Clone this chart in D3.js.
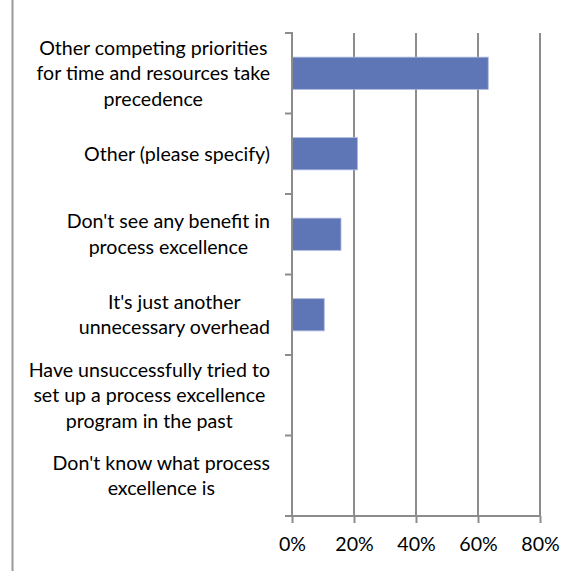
<!DOCTYPE html>
<html>
<head>
<meta charset="utf-8">
<script src="https://cdn.jsdelivr.net/npm/d3@7"></script>
<style>
  html, body { margin: 0; padding: 0; background: #fff; }
  svg { display: block; }
  text { font-family: Lato, "Open Sans", sans-serif; fill: #000; }
</style>
</head>
<body>
<svg id="chart" width="585" height="571"></svg>
<script>
// Survey: reasons for not having a process excellence program
const categories = [
  ["Other competing priorities", "for time and resources take", "precedence"],
  ["Other (please specify)"],
  ["Don't see any benefit in", "process excellence"],
  ["It's just another", "unnecessary overhead"],
  ["Have unsuccessfully tried to", "set up a process excellence", "program in the past"],
  ["Don't know what process", "excellence is"]
];
const values = [0.633, 0.211, 0.158, 0.104, 0, 0];
const tickValues = [0, 0.2, 0.4, 0.6, 0.8];

const svg = d3.select("#chart");
const fontSize = 19.6;
const lineHeight = 25.5;
const gridColor = "#8c8c8c";

const plotLeft = 292, plotRight = 540, plotTop = 33, plotBottom = 516;

const keys = categories.map((c, i) => i);
const x = d3.scaleLinear().domain([0, 0.8]).range([plotLeft, plotRight]);
const y = d3.scaleBand().domain(keys).range([plotTop, plotBottom]).paddingInner(0.6).paddingOuter(0.3);

// outer frame line on the left
svg.append("line")
  .attr("x1", 12.5).attr("x2", 12.5).attr("y1", 0).attr("y2", 571)
  .attr("stroke", "#999").attr("stroke-width", 2);

// vertical gridlines
svg.append("g").selectAll("line")
  .data(tickValues.slice(1))
  .join("line")
  .attr("x1", d => x(d)).attr("x2", d => x(d))
  .attr("y1", plotTop).attr("y2", plotBottom)
  .attr("stroke", gridColor).attr("stroke-width", 2);

// bars
svg.append("g").selectAll("rect")
  .data(values)
  .join("rect")
  .attr("x", x(0))
  .attr("y", (d, i) => y(i))
  .attr("width", d => x(d) - x(0))
  .attr("height", y.bandwidth())
  .attr("fill", "#5e76b5")
  .attr("stroke", "#a9b8e0")
  .attr("stroke-width", d => d > 0 ? 0.8 : 0);

// bottom axis
const xAxis = d3.axisBottom(x)
  .tickValues(tickValues)
  .tickFormat(d3.format(".0%"))
  .tickSize(7)
  .tickSizeOuter(0)
  .tickPadding(14);
const gx = svg.append("g").attr("transform", `translate(0,${plotBottom})`).call(xAxis);
gx.select(".domain").remove();
gx.selectAll(".tick line").attr("stroke", gridColor).attr("stroke-width", 2);
gx.selectAll(".tick text").style("font-size", fontSize + "px").style("font-family", "Lato").attr("fill", "#000");
gx.append("line")
  .attr("x1", plotLeft - 7).attr("x2", plotRight + 1).attr("y1", 0).attr("y2", 0)
  .attr("stroke", gridColor).attr("stroke-width", 2);

// left axis with ticks at category boundaries
const boundaries = keys.map(k => y(k) - y.step() * y.paddingInner() / 2).concat([plotBottom]);
svg.append("line")
  .attr("x1", plotLeft).attr("x2", plotLeft).attr("y1", plotTop - 1).attr("y2", plotBottom)
  .attr("stroke", gridColor).attr("stroke-width", 2);
svg.append("g").selectAll("line")
  .data(boundaries)
  .join("line")
  .attr("x1", plotLeft - 7).attr("x2", plotLeft)
  .attr("y1", d => d).attr("y2", d => d)
  .attr("stroke", gridColor).attr("stroke-width", 2);

// category labels: block right-aligned, lines centred within the block
const labelRight = 270;
const labels = svg.append("g");
categories.forEach((lines, i) => {
  const cy = y(i) + y.bandwidth() / 2;
  const g = labels.append("g");
  const texts = g.selectAll("text")
    .data(lines)
    .join("text")
    .attr("text-anchor", "middle")
    .style("font-size", fontSize + "px")
    .attr("y", (d, j) => cy + (j - (lines.length - 1) / 2) * lineHeight)
    .attr("dy", "0.35em")
    .text(d => d);
  let maxW = 0;
  texts.each(function () { maxW = Math.max(maxW, this.getComputedTextLength()); });
  texts.attr("x", labelRight - maxW / 2);
});
</script>
</body>
</html>
